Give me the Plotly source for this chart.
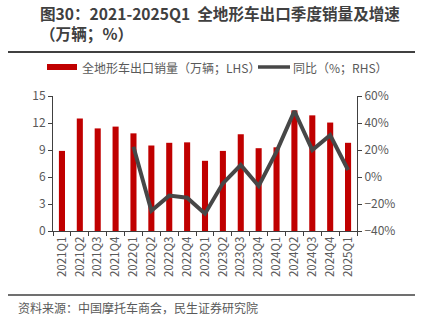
import plotly.graph_objects as go

quarters = ["2021Q1","2021Q2","2021Q3","2021Q4","2022Q1","2022Q2","2022Q3","2022Q4",
            "2023Q1","2023Q2","2023Q3","2023Q4","2024Q1","2024Q2","2024Q3","2024Q4","2025Q1"]
sales = [8.9, 12.5, 11.4, 11.6, 10.85, 9.5, 9.8, 9.85, 7.8, 8.9, 10.75, 9.2, 9.3, 13.4, 12.85, 12.05, 9.8]
yoy = [None, None, None, None, 22.4, -25.0, -13.8, -15.3, -27.2, -4.7, 8.9, -6.7, 18.8, 48.9, 20.0, 31.0, 5.2]
bar_name = "全地形车出口销量（万辆；LHS）"
line_name = "同比（%；RHS）"
title_lines = ["图30：2021-2025Q1  全地形车出口季度销量及增速", "（万辆；%）"]
source_text = "资料来源：中国摩托车商会，民生证券研究院"

font_family = "Noto Sans CJK SC, Noto Sans, sans-serif"
grey = "#595959"
bar_color = "#C00000"
line_color = "#474747"

W, H = 427, 321
L, R, T, B = 53, 70, 96, 90
PW, PH = W - L - R, H - T - B

def px(x):
    return (x - L) / PW

def py(y):
    return (H - B - y) / PH

fig = go.Figure()
fig.add_trace(go.Bar(x=quarters, y=sales, name=bar_name,
                     marker=dict(color=bar_color, line=dict(width=0)), width=0.34, yaxis="y"))
fig.add_trace(go.Scatter(x=quarters, y=yoy, name=line_name, mode="lines",
                         line=dict(color=line_color, width=4), yaxis="y2", connectgaps=False))

fig.update_layout(
    width=W, height=H,
    margin=dict(l=L, r=R, t=T, b=B),
    paper_bgcolor="white", plot_bgcolor="white",
    font=dict(family=font_family, size=11, color=grey),
    showlegend=False,
    xaxis=dict(type="category", tickangle=-90, showline=True, linecolor="#404040", linewidth=1,
               ticks="outside", ticklen=4, tickcolor="#404040", tickson="boundaries",
               tickfont=dict(size=11.5, color=grey), showgrid=False),
    yaxis=dict(range=[0, 15], dtick=3, showline=True, linecolor="#404040", linewidth=1,
               ticks="outside", ticklen=4, tickcolor="#404040", showgrid=False, zeroline=False,
               tickfont=dict(size=12, color=grey)),
    yaxis2=dict(range=[-40, 60], dtick=20, overlaying="y", side="right", ticksuffix="%",
                showline=True, linecolor="#404040", linewidth=1, ticks="outside", ticklen=4,
                tickcolor="#404040", showgrid=False, zeroline=False,
                tickfont=dict(size=12, color=grey)),
)

# custom legend
fig.add_shape(type="rect", xref="paper", yref="paper", x0=px(47), x1=px(77), y0=py(70), y1=py(64),
              fillcolor=bar_color, line=dict(width=0))
fig.add_annotation(xref="paper", yref="paper", x=px(80), y=py(67), xanchor="left", yanchor="middle",
                   showarrow=False, text=bar_name, font=dict(size=12, color=grey, family=font_family))
fig.add_shape(type="line", xref="paper", yref="paper", x0=px(258), x1=px(290), y0=py(67), y1=py(67),
              line=dict(color=line_color, width=3.5))
fig.add_annotation(xref="paper", yref="paper", x=px(291), y=py(67), xanchor="left", yanchor="middle",
                   showarrow=False, text=line_name, font=dict(size=12, color=grey, family=font_family))

# title (two lines in one text block)
fig.add_annotation(xref="paper", yref="paper", x=px(38), y=py(23),
                   xanchor="left", yanchor="middle", showarrow=False, align="left",
                   text="<b>" + title_lines[0] + "</b><br><b>" + title_lines[1] + "</b>",
                   font=dict(size=15.6, color="#404040", family=font_family))
# source
fig.add_annotation(xref="paper", yref="paper", x=px(16), y=py(307),
                   xanchor="left", yanchor="middle", showarrow=False, align="left",
                   text=source_text,
                   font=dict(size=12, color=grey, family=font_family))

fig.add_shape(type="line", xref="paper", yref="paper",
              x0=px(8), x1=px(415), y0=py(52), y1=py(52),
              line=dict(color="#404040", width=2))
fig.add_shape(type="line", xref="paper", yref="paper",
              x0=px(8), x1=px(415), y0=py(295), y1=py(295),
              line=dict(color="#707070", width=2))

fig.write_html("out.html")
